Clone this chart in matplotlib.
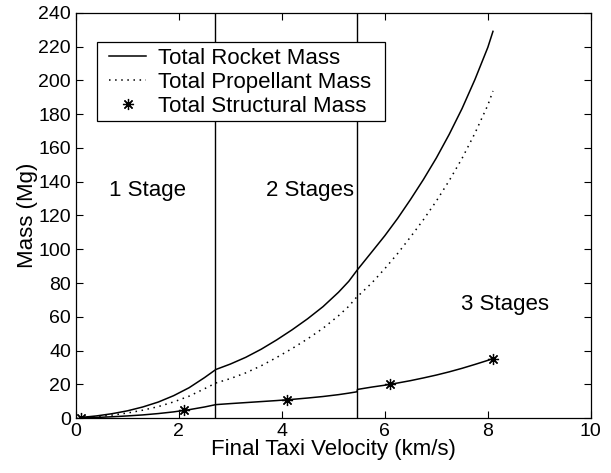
import matplotlib
matplotlib.use("Agg")
import matplotlib.pyplot as plt
from matplotlib.patches import Rectangle

plt.rcParams['font.family'] = ['Liberation Sans', 'DejaVu Sans']

# final taxi velocity grid (km/s)
velocity = [0.1, 0.4, 0.7, 1.0, 1.3, 1.6, 1.9, 2.2, 2.5, 2.72,
            3.0, 3.3, 3.6, 3.9, 4.2, 4.5, 4.8, 5.1, 5.3, 5.46,
            5.47, 5.75, 6.0, 6.25, 6.5, 6.75, 7.0, 7.25, 7.5, 7.75, 8.0, 8.1]

# masses (Mg)
rocket_mass = [0.4, 1.3, 2.6, 4.3, 6.6, 9.5, 13.3, 18.0, 24.0, 28.8,
               32.0, 36.0, 40.8, 46.3, 52.3, 58.8, 66.0, 74.5, 81.0, 87.5,
               87.9, 98.5, 108.0, 118.3, 129.5, 141.3, 154.0, 168.0, 183.3, 200.5, 219.5, 229.0]
propellant_mass = [0.1, 0.9, 1.8, 3.0, 4.7, 6.8, 9.6, 13.0, 17.4, 20.8,
                   23.4, 26.8, 31.0, 35.9, 41.2, 46.9, 53.2, 60.6, 66.2, 71.9,
                   72.0, 80.1, 88.5, 97.5, 107.3, 117.5, 128.5, 140.6, 153.8, 168.7, 185.3, 193.7]
structural_mass = [0.3, 0.4, 0.8, 1.3, 1.9, 2.7, 3.7, 5.0, 6.6, 8.0,
                   8.6, 9.2, 9.8, 10.4, 11.1, 11.9, 12.8, 13.9, 14.8, 15.6,
                   17.0, 18.4, 19.5, 20.8, 22.2, 23.8, 25.5, 27.4, 29.5, 31.8, 34.2, 35.3]

# where the star markers sit
marker_velocity = [0.1, 2.1, 4.1, 6.1, 8.1]
marker_mass = [0.3, 4.7, 10.8, 20.0, 35.3]

# stage boundaries (km/s)
stage_limits = [2.71, 5.46]
stage_labels = ['1 Stage', '2 Stages', '3 Stages']
label_pos = [(0.65, 135), (3.7, 135), (7.48, 67)]

fig = plt.figure(figsize=(6.11, 4.73), dpi=100)
ax = fig.add_axes([0.124, 0.116, 0.843, 0.857])

ax.plot(velocity, rocket_mass, color='black', lw=1.1, label='Total Rocket Mass')
ax.plot(velocity, propellant_mass, color='black', lw=1.1, dashes=(1, 3),
        label='Total Propellant Mass')
ax.plot(velocity, structural_mass, color='black', lw=1.1)
ax.plot(marker_velocity, marker_mass, linestyle='none', marker=(8, 2, 0),
        markersize=8, color='black', markeredgewidth=0.9, label='Total Structural Mass')

for v in stage_limits:
    ax.axvline(v, color='black', lw=1.0)

for txt, (x, y) in zip(stage_labels, label_pos):
    ax.text(x, y, txt, fontsize=16, ha='left', va='center')

ax.set_xlim(0, 10)
ax.set_ylim(0, 240)
ax.set_xticks(range(0, 11, 2))
ax.set_yticks(range(0, 241, 20))
ax.tick_params(direction='in', top=True, right=True, labelsize=14, length=5, width=0.8)
for s in ax.spines.values():
    s.set_linewidth(0.9)

ax.set_xlabel('Final Taxi Velocity (km/s)', fontsize=16, labelpad=-1)
ax.set_ylabel('Mass (Mg)', fontsize=16, labelpad=0)

# legend box drawn by hand (white, covers the stage line), legend itself frameless
box = Rectangle((0.041, 0.733), 0.559, 0.195, transform=ax.transAxes,
                facecolor='white', edgecolor='black', lw=0.9, zorder=4.5)
ax.add_patch(box)
leg = ax.legend(loc='upper left', bbox_to_anchor=(0.053, 0.928), borderaxespad=0,
                fontsize=16, frameon=False, handlelength=1.7,
                handletextpad=0.5, labelspacing=0.14, borderpad=0.25)
leg.set_zorder(5)

fig.savefig('out.png', dpi=100)
